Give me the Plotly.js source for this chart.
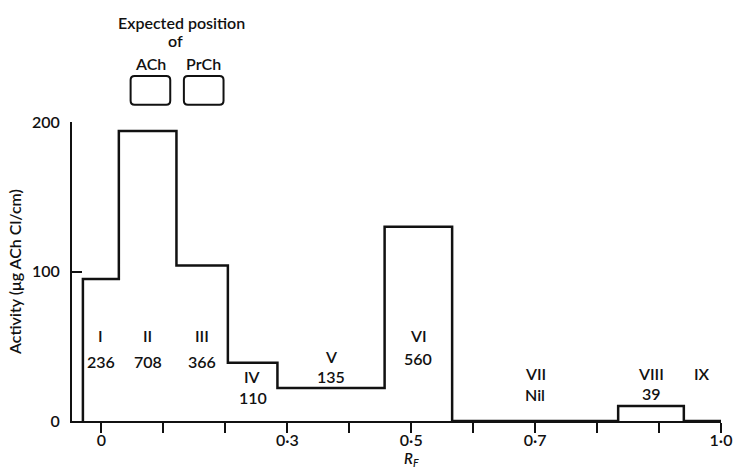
<!DOCTYPE html>
<html>
<head>
<meta charset="utf-8">
<script src="https://cdn.plot.ly/plotly-3.0.1.min.js"></script>
<style>html,body{margin:0;padding:0;background:#fff;}</style>
</head>
<body>
<div id="chart" style="width:735px;height:468px;"></div>
<script>
// ---- data ----
// Rf boundaries of the eluted fractions (left edge of I ... right edge of plot)
var bandEdges = [-0.03, 0.028, 0.121, 0.204, 0.284, 0.457, 0.566, 0.834, 0.940, 1.0];
// Activity level (µg ACh Cl/cm) in each band
var bandActivity = [95, 194, 104, 39, 22, 130, 0, 10, 0];
// Fraction names and total activities printed in the chart
var fractionNames = ['I', 'II', 'III', 'IV', 'V', 'VI', 'VII', 'VIII', 'IX'];
var fractionTotals = ['236', '708', '366', '110', '135', '560', 'Nil', '39', ''];
// Expected Rf spans of reference compounds
var refCompounds = ['ACh', 'PrCh'];
var refStart = [0.047, 0.133];
var refEnd = [0.111, 0.197];
// Axis ticks
var xTickVals = [0, 0.3, 0.5, 0.7, 1.0];
var xTickText = ['0', '0\u00b73', '0\u00b75', '0\u00b77', '1\u00b70'];
var xMinorStep = 0.1;
var yTickVals = [0, 100, 200];

// ---- layout helpers (label heights in data units) ----
var nameY  = [57, 57, 57, 30, 43, 57.5, 32, 32, 32];
var totalY = [40, 40, 40, 16, 29.6, 42, 17.4, 18.5, null];

// build step line
var sx = [bandEdges[0]], sy = [0];
for (var i = 0; i < bandActivity.length; i++) {
  sx.push(bandEdges[i]); sy.push(bandActivity[i]);
}
sx.push(bandEdges[bandEdges.length - 1]); sy.push(bandActivity[bandActivity.length - 1]);

var FONT = 'Lato, "Open Sans", sans-serif';
var TXT = {family: FONT, size: 16, color: '#111', weight: 600};
function ann(x, y, yref, text, size) {
  var f = {family: FONT, size: size || 16, color: '#111', weight: 600};
  return {x: x, y: y, xref: 'x', yref: yref, text: text, showarrow: false,
    xanchor: 'center', yanchor: 'middle', font: f};
}
var annotations = [];
for (var j = 0; j < fractionNames.length; j++) {
  var mid = (bandEdges[j] + bandEdges[j + 1]) / 2;
  annotations.push(ann(mid, nameY[j], 'y', fractionNames[j]));
  if (fractionTotals[j]) annotations.push(ann(mid, totalY[j], 'y', fractionTotals[j]));
}
annotations.push(ann(0.129, 1.334, 'paper', 'Expected position'));
annotations.push(ann(0.12, 1.274, 'paper', 'of'));
annotations.push(ann(0.5, -0.126, 'paper', '<i>R<sub>F</sub></i>', 15));

function roundedRect(x0, x1, y0, y1, rx, ry) {
  return 'M' + (x0 + rx) + ',' + y0 + ' L' + (x1 - rx) + ',' + y0 +
    ' Q' + x1 + ',' + y0 + ' ' + x1 + ',' + (y0 + ry) +
    ' L' + x1 + ',' + (y1 - ry) + ' Q' + x1 + ',' + y1 + ' ' + (x1 - rx) + ',' + y1 +
    ' L' + (x0 + rx) + ',' + y1 + ' Q' + x0 + ',' + y1 + ' ' + x0 + ',' + (y1 - ry) +
    ' L' + x0 + ',' + (y0 + ry) + ' Q' + x0 + ',' + y0 + ' ' + (x0 + rx) + ',' + y0 + ' Z';
}
var shapes = [];
for (var k = 0; k < refCompounds.length; k++) {
  shapes.push({type: 'path', xref: 'x', yref: 'paper',
    path: roundedRect(refStart[k], refEnd[k], 1.058, 1.154, 0.0065, 0.0134),
    line: {color: '#111', width: 2}});
  annotations.push(ann((refStart[k] + refEnd[k]) / 2, 1.197, 'paper', refCompounds[k]));
}

var trace = {
  x: sx, y: sy, type: 'scatter', mode: 'lines',
  line: {shape: 'hv', color: '#111', width: 2.5},
  hoverinfo: 'skip', showlegend: false, cliponaxis: false
};

var layout = {
  width: 735, height: 468,
  margin: {l: 72, r: 14, t: 122, b: 47},
  paper_bgcolor: '#fff', plot_bgcolor: '#fff',
  font: TXT,
  showlegend: false,
  xaxis: {
    range: [-0.0476, 1.0], showgrid: false, zeroline: false,
    showline: true, linecolor: '#111', linewidth: 2,
    tickmode: 'array', tickvals: xTickVals, ticktext: xTickText,
    ticks: 'outside', ticklen: 10, tickwidth: 2, tickcolor: '#111',
    minor: {tick0: 0, dtick: xMinorStep, ticks: 'outside', ticklen: 10, tickwidth: 2,
      tickcolor: '#111', showgrid: false},
    ticklabelstandoff: -6,
    tickfont: TXT
  },
  yaxis: {
    range: [0, 200], showgrid: false, zeroline: false,
    showline: true, linecolor: '#111', linewidth: 2,
    tickmode: 'array', tickvals: yTickVals,
    ticks: 'inside', ticklen: 10, tickwidth: 2, tickcolor: '#111',
    ticklabelstandoff: 7,
    tickfont: TXT,
    title: {text: 'Activity (\u03bcg ACh Cl/cm)', standoff: 6, font: TXT},
    automargin: false
  },
  annotations: annotations,
  shapes: shapes
};

Plotly.newPlot('chart', [trace], layout, {displayModeBar: false, staticPlot: true});
</script>
</body>
</html>
